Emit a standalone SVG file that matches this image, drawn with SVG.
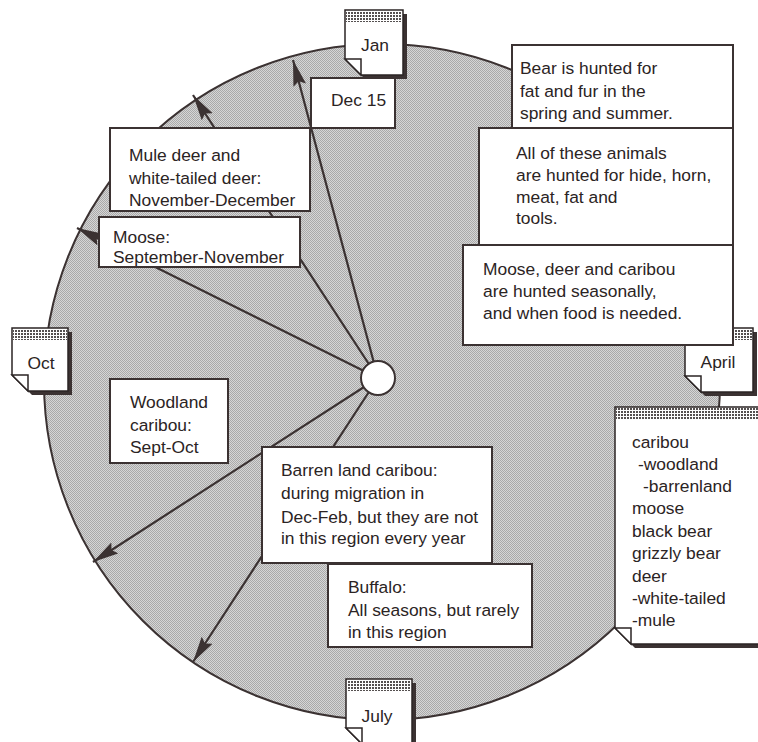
<svg xmlns="http://www.w3.org/2000/svg" width="758" height="742" viewBox="0 0 758 742">
<defs>
<pattern id="shade" width="2" height="2" patternUnits="userSpaceOnUse"><rect width="2" height="2" fill="#d6d6d6"/><rect width="1" height="1" fill="#a9a9a9"/><rect x="1" y="1" width="1" height="1" fill="#a9a9a9"/></pattern>
<pattern id="band" width="3" height="3" patternUnits="userSpaceOnUse"><rect width="3" height="3" fill="#ffffff"/><rect width="2" height="2" fill="#555050"/></pattern>
<marker id="ah" markerWidth="28" markerHeight="14" refX="26" refY="6.5" orient="auto" markerUnits="userSpaceOnUse"><path d="M0,0 L26,6.5 L0,13 L4,6.5 Z" fill="#3b3232"/></marker>
</defs>
<style>
.box{fill:#ffffff;stroke:#3b3232;stroke-width:2}
.t{font-family:"Liberation Sans",Arial,sans-serif;font-size:17.4px;fill:#2b2424}
.m{text-anchor:middle}
.c{stroke:#3b3232;stroke-width:2.2;fill:none}
.note{fill:#ffffff;stroke:#2b2424;stroke-width:1.5}
.sh{fill:#3b3232}
.band{fill:url(#band)}
</style>
<rect width="758" height="742" fill="#ffffff"/>
<circle id="wheel" cx="382" cy="382" r="338" fill="url(#shade)" stroke="#3b3232" stroke-width="2"/>
<g id="connectors">
<line class="c" x1="378" y1="378" x2="293" y2="60" marker-end="url(#ah)"/>
<line class="c" x1="378" y1="378" x2="193" y2="95" marker-end="url(#ah)"/>
<line class="c" x1="378" y1="378" x2="77" y2="228" marker-end="url(#ah)"/>
<line class="c" x1="378" y1="378" x2="93" y2="562" marker-end="url(#ah)"/>
<line class="c" x1="378" y1="378" x2="193" y2="662" marker-end="url(#ah)"/>
</g>
<g id="hub"><circle cx="378" cy="378" r="17" fill="#ffffff" stroke="#3b3232" stroke-width="2"/></g>

<g id="note-jan">
<path class="sh" d="M349,14 H407 V79 H365 L349,63 Z"/>
<path class="note" d="M345,10 H403 V75 H361 L345,59 Z"/>
<rect class="band" x="346" y="11" width="56" height="11"/>
<path class="note" d="M345,59 L361,59 L361,75 Z"/>
<text class="t m" x="375" y="51">Jan</text>
</g>
<g id="note-oct">
<path class="sh" d="M16,332 H72 V395 H32 L16,379 Z"/>
<path class="note" d="M12,328 H68 V391 H28 L12,375 Z"/>
<rect class="band" x="13" y="329" width="54" height="11"/>
<path class="note" d="M12,375 L28,375 L28,391 Z"/>
<text class="t m" x="41" y="369">Oct</text>
</g>
<g id="note-april">
<path class="sh" d="M689,332 H757 V396 H705 L689,380 Z"/>
<path class="note" d="M685,328 H753 V392 H701 L685,376 Z"/>
<rect class="band" x="686" y="329" width="66" height="11"/>
<path class="note" d="M685,376 L701,376 L701,392 Z"/>
<text class="t m" x="718" y="368">April</text>
</g>
<g id="note-july">
<path class="sh" d="M350,683 H416 V748 H366 L350,732 Z"/>
<path class="note" d="M346,679 H412 V744 H362 L346,728 Z"/>
<rect class="band" x="347" y="680" width="64" height="11"/>
<path class="note" d="M346,728 L362,728 L362,744 Z"/>
<text class="t m" x="377" y="722">July</text>
</g>
<g id="species-list">
<path class="sh" d="M619,411 H774 V648 H635 L619,632 Z"/>
<path class="note" d="M615,407 H770 V644 H631 L615,628 Z"/>
<rect class="band" x="616" y="408" width="150" height="11"/>
<path class="note" d="M615,628 L631,628 L631,644 Z"/>
<text class="t" x="632" y="448">caribou</text>
<text class="t" x="638" y="470">-woodland</text>
<text class="t" x="643" y="492">-barrenland</text>
<text class="t" x="632" y="514">moose</text>
<text class="t" x="632" y="537">black bear</text>
<text class="t" x="632" y="559">grizzly bear</text>
<text class="t" x="632" y="582">deer</text>
<text class="t" x="632" y="604">-white-tailed</text>
<text class="t" x="632" y="626">-mule</text>
</g>

<g id="dec15">
<rect class="box" x="311" y="78" width="84" height="50"/>
<text class="t" x="331" y="106">Dec 15</text>
</g>
<g id="mule-deer">
<rect class="box" x="110" y="128" width="200" height="83"/>
<text class="t" x="129" y="161">Mule deer and</text>
<text class="t" x="129" y="184">white-tailed deer:</text>
<text class="t" x="129" y="206">November-December</text>
</g>
<g id="moose">
<rect class="box" x="99" y="217" width="201" height="50"/>
<text class="t" x="113" y="243">Moose:</text>
<text class="t" x="113" y="263">September-November</text>
</g>
<g id="bear">
<rect class="box" x="512" y="45" width="221" height="83"/>
<text class="t" x="520" y="74">Bear is hunted for</text>
<text class="t" x="520" y="97">fat and fur in the</text>
<text class="t" x="520" y="119">spring and summer.</text>
</g>
<g id="all-animals">
<rect class="box" x="479" y="128" width="254" height="117"/>
<text class="t" x="516" y="159">All of these animals</text>
<text class="t" x="516" y="181">are hunted for hide, horn,</text>
<text class="t" x="516" y="203">meat, fat and</text>
<text class="t" x="516" y="224">tools.</text>
</g>
<g id="seasonal">
<rect class="box" x="463" y="245" width="270" height="100"/>
<text class="t" x="483" y="275">Moose, deer and caribou</text>
<text class="t" x="483" y="297">are hunted seasonally,</text>
<text class="t" x="483" y="319">and when food is needed.</text>
</g>
<g id="woodland">
<rect class="box" x="110" y="379" width="118" height="84"/>
<text class="t" x="130" y="408">Woodland</text>
<text class="t" x="130" y="431">caribou:</text>
<text class="t" x="130" y="453">Sept-Oct</text>
</g>
<g id="barren">
<rect class="box" x="262" y="447" width="230" height="116"/>
<text class="t" x="281" y="476">Barren land caribou:</text>
<text class="t" x="281" y="499">during migration in</text>
<text class="t" x="281" y="523">Dec-Feb, but they are not</text>
<text class="t" x="281" y="544">in this region every year</text>
</g>
<g id="buffalo">
<rect class="box" x="328" y="564" width="204" height="83"/>
<text class="t" x="348" y="593">Buffalo:</text>
<text class="t" x="348" y="616">All seasons, but rarely</text>
<text class="t" x="348" y="638">in this region</text>
</g>
</svg>
